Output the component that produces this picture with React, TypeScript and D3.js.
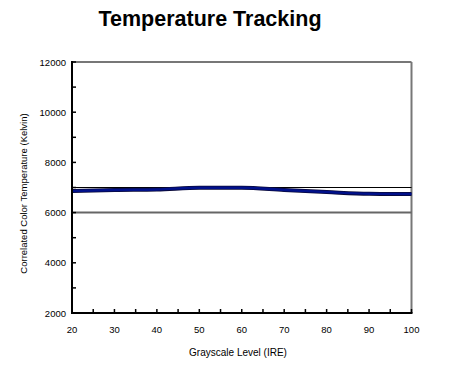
import React from "react";
import * as d3 from "d3";

const ireLevels = [20, 30, 40, 50, 60, 70, 80, 90, 100];
const colorTemps = [6860, 6900, 6920, 6990, 6990, 6900, 6820, 6750, 6740];
const yTickValues = [2000, 4000, 6000, 8000, 10000, 12000];
const xTickValues = [20, 30, 40, 50, 60, 70, 80, 90, 100];
const refLow = 6000;
const refHigh = 7000;

const W = 450, H = 368;
const M = { left: 72, right: 411.5, top: 62, bottom: 313 };

export default function App() {
  const x = d3.scaleLinear().domain([20, 100]).range([M.left, M.right]);
  const y = d3.scaleLinear().domain([2000, 12000]).range([M.bottom, M.top]);
  const line = d3
    .line<number>()
    .x((_, i) => x(ireLevels[i]))
    .y((d) => y(d))
    .curve(d3.curveMonotoneX);
  const path = line(colorTemps) || "";
  const minorY = d3.range(2000, 12001, 1000);
  const minorX = d3.range(20, 101, 5);
  const font = "Liberation Sans, Arial, sans-serif";
  return (
    <svg width={W} height={H} style={{ position: "absolute", left: 0, top: 0, background: "#fff" }}>
      <rect x={0} y={0} width={W} height={H} fill="#fff" />
      <text x={210} y={26} textAnchor="middle" fontFamily={font} fontWeight="bold" fontSize={21.5} fill="#000">
        Temperature Tracking
      </text>
      {/* frame top/right gray */}
      <line x1={M.left} x2={M.right} y1={M.top} y2={M.top} stroke="#777" strokeWidth={2} />
      <line x1={M.right} x2={M.right} y1={M.top} y2={M.bottom} stroke="#777" strokeWidth={2} />
      {/* reference lines */}
      <line x1={M.left} x2={M.right} y1={y(refLow)} y2={y(refLow)} stroke="#666" strokeWidth={2} />
      <line x1={M.left} x2={M.right} y1={y(refHigh)} y2={y(refHigh)} stroke="#000" strokeWidth={1.2} />
      {/* data line */}
      <path d={path} fill="none" stroke="#0a0a3a" strokeWidth={4} />
      <path d={path} fill="none" stroke="#00108a" strokeWidth={2.4} />
      {/* axes */}
      <line x1={M.left} x2={M.left} y1={M.top - 1} y2={M.bottom + 1} stroke="#000" strokeWidth={2} />
      <line x1={M.left - 1} x2={M.right + 1} y1={M.bottom} y2={M.bottom} stroke="#000" strokeWidth={2} />
      {minorY.map((v) => (
        <line key={"yt" + v} x1={M.left} x2={M.left + 4} y1={y(v)} y2={y(v)} stroke="#000" strokeWidth={1.5} />
      ))}
      {minorX.map((v) => (
        <line key={"xt" + v} x1={x(v)} x2={x(v)} y1={M.bottom} y2={M.bottom - 4} stroke="#000" strokeWidth={1.5} />
      ))}
      {yTickValues.map((v) => (
        <text key={"yl" + v} x={66} y={y(v) + 3.5} textAnchor="end" fontFamily={font} fontSize={9.5} fill="#000">
          {v}
        </text>
      ))}
      {xTickValues.map((v) => (
        <text key={"xl" + v} x={x(v)} y={333} textAnchor="middle" fontFamily={font} fontSize={9.5} fill="#000">
          {v}
        </text>
      ))}
      <text x={238} y={356} textAnchor="middle" fontFamily={font} fontSize={10} fill="#000">
        Grayscale Level (IRE)
      </text>
      <text
        transform={`translate(27,${(M.top + M.bottom) / 2 + 6}) rotate(-90)`}
        textAnchor="middle"
        fontFamily={font}
        fontSize={9.5}
        fill="#000"
      >
        Correlated Color Temperature (Kelvin)
      </text>
    </svg>
  );
}
